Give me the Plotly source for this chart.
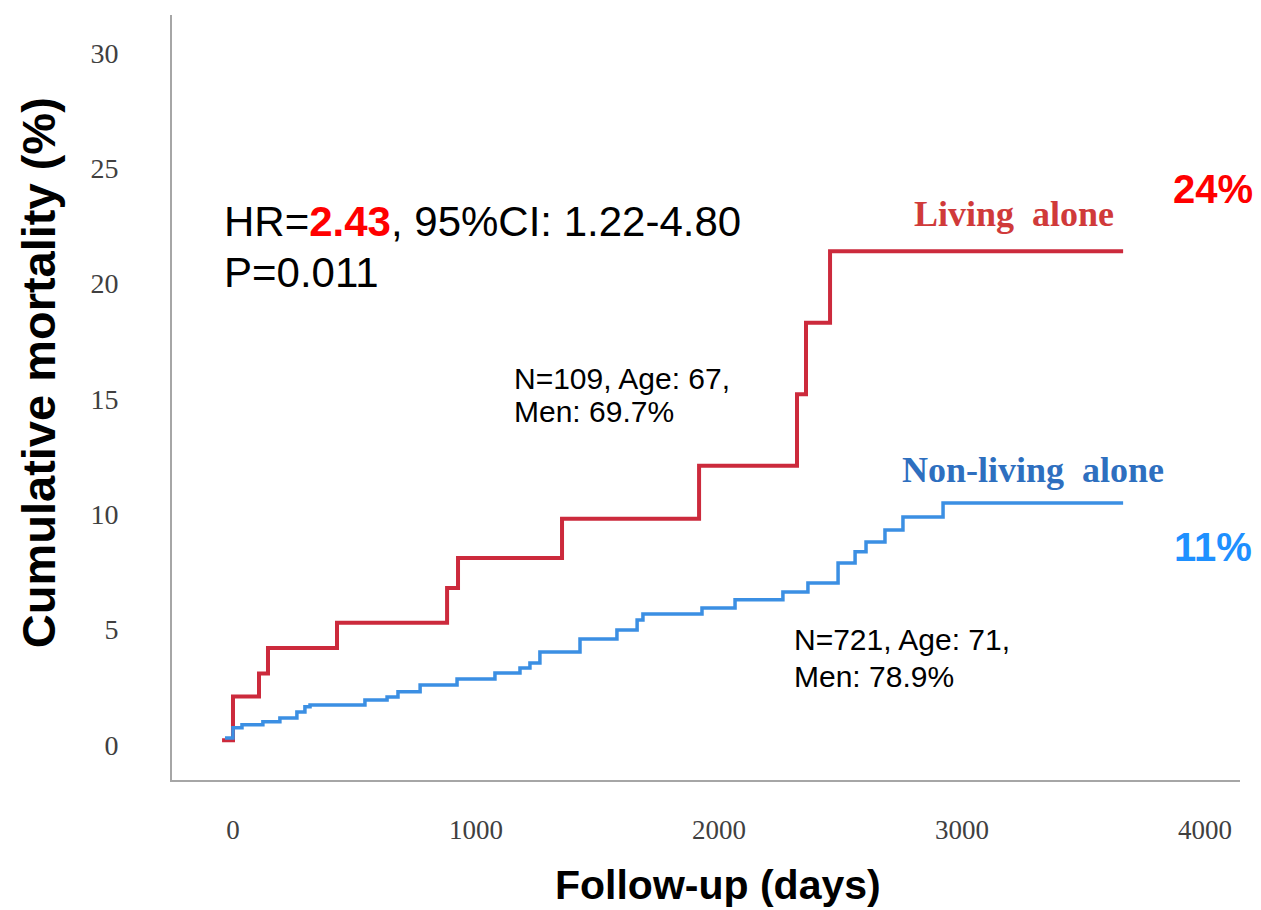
import plotly.graph_objects as go

# Kaplan-Meier style cumulative mortality (step curves)
alone_days = [-45, 0, 107, 144, 428, 881, 926, 1354, 1918, 2321, 2358, 2457, 3663]
alone_vals = [0.2, 2.1, 3.1, 4.2, 5.3, 6.8, 8.1, 9.8, 12.1, 15.2, 18.3, 21.4, 21.4]

nonalone_days = [-33, 0, 37, 123, 193, 263, 296, 317, 543, 634, 679, 770, 922, 1078,
                 1181, 1222, 1263, 1428, 1580, 1663, 1687, 1930, 2066, 2263, 2366,
                 2490, 2560, 2605, 2683, 2757, 2922, 3663]
nonalone_vals = [0.3, 0.74, 0.87, 1.0, 1.17, 1.43, 1.65, 1.73, 1.95, 2.08, 2.3, 2.6, 2.86, 3.12,
                 3.34, 3.55, 4.03, 4.59, 4.98, 5.42, 5.68, 5.94, 6.29, 6.63, 7.02,
                 7.89, 8.37, 8.8, 9.32, 9.88, 10.49, 10.49]

x_ticks = [0, 1000, 2000, 3000, 4000]
y_ticks = [0, 5, 10, 15, 20, 25, 30]

RED_LINE = "#cc2a3c"
BLUE_LINE = "#3b8fe3"

fig = go.Figure()
fig.add_trace(go.Scatter(x=alone_days, y=alone_vals, mode="lines", line_shape="hv",
                         line=dict(color=RED_LINE, width=4), name="Living alone",
                         showlegend=False))
fig.add_trace(go.Scatter(x=nonalone_days, y=nonalone_vals, mode="lines", line_shape="hv",
                         line=dict(color=BLUE_LINE, width=3.5), name="Non-living alone",
                         showlegend=False))

sans = "Liberation Sans, Arial, sans-serif"
serif = "Liberation Serif, Times New Roman, serif"

annotations = [
    dict(x=-45, y=22.67, xref="x", yref="y", xanchor="left", yanchor="middle", showarrow=False,
         text="HR=<b><span style='color:#ff0000'>2.43</span></b>, 95%CI: 1.22-4.80",
         font=dict(family=sans, size=42, color="#000000")),
    dict(x=-45, y=20.5, xref="x", yref="y", xanchor="left", yanchor="middle", showarrow=False,
         text="P=0.011", font=dict(family=sans, size=42, color="#000000")),
    dict(x=3215, y=23.0, xref="x", yref="y", xanchor="center", yanchor="middle", showarrow=False,
         text="<b>Living  alone</b>", font=dict(family=serif, size=36, color="#d03a3a")),
    dict(x=3292, y=11.9, xref="x", yref="y", xanchor="center", yanchor="middle", showarrow=False,
         text="<b>Non-living  alone</b>", font=dict(family=serif, size=36, color="#2e6fbf")),
    dict(x=1148, y=15.9, xref="x", yref="y", xanchor="left", yanchor="middle", showarrow=False,
         text="N=109, Age: 67,", font=dict(family=sans, size=30, color="#000000")),
    dict(x=1148, y=14.45, xref="x", yref="y", xanchor="left", yanchor="middle", showarrow=False,
         text="Men: 69.7%", font=dict(family=sans, size=30, color="#000000")),
    dict(x=2300, y=4.55, xref="x", yref="y", xanchor="left", yanchor="middle", showarrow=False,
         text="N=721, Age: 71,", font=dict(family=sans, size=30, color="#000000")),
    dict(x=2300, y=2.95, xref="x", yref="y", xanchor="left", yanchor="middle", showarrow=False,
         text="Men: 78.9%", font=dict(family=sans, size=30, color="#000000")),
    dict(x=4033, y=24.1, xref="x", yref="y", xanchor="center", yanchor="middle", showarrow=False,
         text="<b>24%</b>", font=dict(family=sans, size=40, color="#ff0000")),
    dict(x=4033, y=8.58, xref="x", yref="y", xanchor="center", yanchor="middle", showarrow=False,
         text="<b>11%</b>", font=dict(family=sans, size=40, color="#1e90ff")),
    dict(x=-0.1255, y=0.533, xref="paper", yref="paper", xanchor="center", yanchor="middle",
         showarrow=False, textangle=-90, text="<b>Cumulative mortality (%)</b>",
         font=dict(family=sans, size=47, color="#000000")),
    dict(x=0.511, y=-0.137, xref="paper", yref="paper", xanchor="center", yanchor="middle",
         showarrow=False, text="<b>Follow-up (days)</b>",
         font=dict(family=sans, size=41, color="#000000")),
]

fig.update_layout(
    width=1261, height=910,
    margin=dict(l=172, r=21, t=15, b=130),
    paper_bgcolor="white", plot_bgcolor="white",
    annotations=annotations,
    xaxis=dict(range=[-251, 4144], tickvals=x_ticks, ticktext=[str(v) for v in x_ticks],
               showgrid=False, zeroline=False, showline=True, linecolor="#a6a6a6", linewidth=2,
               ticks="", ticklabelstandoff=25,
               tickfont=dict(family=serif, size=27, color="#404040")),
    yaxis=dict(range=[-1.52, 31.64], tickvals=y_ticks, ticktext=[str(v) for v in y_ticks],
               showgrid=False, zeroline=False, showline=True, linecolor="#a6a6a6", linewidth=2,
               ticks="", ticklabelstandoff=46,
               tickfont=dict(family=serif, size=28, color="#404040")),
)

fig.write_html("out.html")
